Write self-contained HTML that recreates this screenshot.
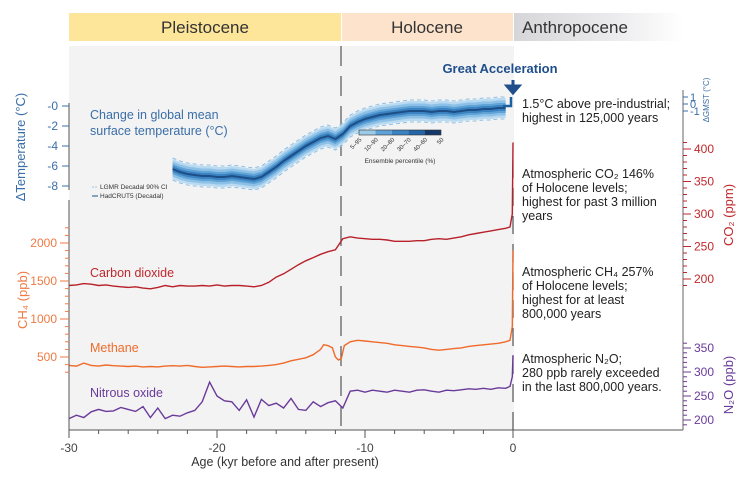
<!DOCTYPE html>
<html><head><meta charset="utf-8"><style>
body{margin:0;background:#fff}
svg{display:block;font-family:"Liberation Sans",sans-serif}
</style></head><body>
<svg id="chart" width="754" height="480" viewBox="0 0 754 480">
<defs><linearGradient id="anth" x1="0" x2="1"><stop offset="0" stop-color="#d6d6d8"/><stop offset="0.6" stop-color="#ececee"/><stop offset="1" stop-color="#fff"/></linearGradient></defs>
<rect x="69" y="13" width="272" height="28" fill="#fde59a"/>
<rect x="342" y="13" width="171" height="28" fill="#fde3cc"/>
<rect x="514" y="13" width="170" height="28" fill="url(#anth)"/>
<text x="205" y="33" font-size="17" text-anchor="middle" fill="#333">Pleistocene</text>
<text x="427" y="33" font-size="17" text-anchor="middle" fill="#333">Holocene</text>
<text x="575" y="33" font-size="17" text-anchor="middle" fill="#333">Anthropocene</text>
<rect x="69" y="46" width="445" height="384" fill="#f3f3f3"/>
<g id="marks"></g>
<g id="axes" fill="none" stroke-width="1"></g>
<text x="500" y="73" font-size="13" font-weight="bold" text-anchor="middle" fill="#1f4e8c">Great Acceleration</text>
<path d="M513 80 V88 M507 86 L513 93 L519 86 Z" stroke="#1f4e8c" stroke-width="3" fill="#1f4e8c"/>
<g font-size="12.5" fill="#222">
<text x="522" y="108">1.5°C above pre-industrial;</text><text x="522" y="122">highest in 125,000 years</text>
<text x="522" y="178">Atmospheric CO₂ 146%</text><text x="522" y="192">of Holocene levels;</text><text x="522" y="206">highest for past 3 million</text><text x="522" y="220">years</text>
<text x="522" y="276">Atmospheric CH₄ 257%</text><text x="522" y="290">of Holocene levels;</text><text x="522" y="304">highest for at least</text><text x="522" y="318">800,000 years</text>
<text x="522" y="363">Atmospheric N₂O;</text><text x="522" y="377">280 ppb rarely exceeded</text><text x="522" y="391">in the last 800,000 years.</text>
</g>
<text x="90" y="119" font-size="12.5" fill="#3a6ea8">Change in global mean</text>
<text x="90" y="135" font-size="12.5" fill="#3a6ea8">surface temperature (°C)</text>
<text x="90" y="277" font-size="12.5" fill="#c0282d">Carbon dioxide</text>
<text x="90" y="352" font-size="12.5" fill="#ee6c2c">Methane</text>
<text x="90" y="397" font-size="12.5" fill="#6a3a9a">Nitrous oxide</text>
<g font-size="6.5" fill="#333">
<line x1="92" y1="187" x2="98" y2="187" stroke="#9cc8e8" stroke-dasharray="2,1"/><text x="100" y="189">LGMR Decadal 90% CI</text>
<line x1="92" y1="196" x2="98" y2="196" stroke="#1d4f86"/><text x="100" y="198">HadCRUT5 (Decadal)</text>
</g>
<g id="cbar"></g>
<text x="400" y="163" font-size="6.5" text-anchor="middle" fill="#333">Ensemble percentile (%)</text>
<text x="285" y="466" font-size="12.5" text-anchor="middle" fill="#333">Age (kyr before and after present)</text>
<text transform="translate(25,147) rotate(-90)" font-size="13" text-anchor="middle" fill="#3a6ea8">ΔTemperature (°C)</text>
<text transform="translate(27,300) rotate(-90)" font-size="13" text-anchor="middle" fill="#ee7a44">CH₄ (ppb)</text>
<text transform="translate(733,215) rotate(-90)" font-size="13" text-anchor="middle" fill="#c0282d">CO₂ (ppm)</text>
<text transform="translate(733,385) rotate(-90)" font-size="13" text-anchor="middle" fill="#6a3a9a">N₂O (ppb)</text>
<text transform="translate(709,100) rotate(-90)" font-size="8" text-anchor="middle" fill="#3a6ea8">ΔGMST (°C)</text>
</svg>
<script>
const tempAges=[-23,-22.5,-22,-21.5,-21,-20.5,-20,-19.5,-19,-18.5,-18,-17.5,-17,-16.5,-16,-15.5,-15,-14.5,-14,-13.5,-13,-12.5,-12,-11.5,-11,-10.5,-10,-9.5,-9,-8.5,-8,-7.5,-7,-6.5,-6,-5.5,-5,-4.5,-4,-3.5,-3,-2.5,-2,-1.5,-1,-0.5];
const tempVals=[-6.3,-6.6,-6.8,-6.9,-7.0,-7.0,-7.1,-7.1,-7.0,-7.1,-7.2,-7.3,-7.1,-6.6,-6.1,-5.5,-5.0,-4.5,-4.0,-3.6,-3.2,-3.0,-3.3,-2.8,-2.0,-1.6,-1.3,-1.1,-0.9,-0.8,-0.7,-0.6,-0.5,-0.5,-0.5,-0.6,-0.5,-0.5,-0.6,-0.5,-0.4,-0.4,-0.3,-0.3,-0.2,-0.2];
const gasAges=[-30,-29.5,-29,-28.5,-28,-27.5,-27,-26.5,-26,-25.5,-25,-24.5,-24,-23.5,-23,-22.5,-22,-21.5,-21,-20.5,-20,-19.5,-19,-18.5,-18,-17.5,-17,-16.5,-16,-15.5,-15,-14.5,-14,-13.5,-13,-12.5,-12,-11.5,-11,-10.5,-10,-9.5,-9,-8.5,-8,-7.5,-7,-6.5,-6,-5.5,-5,-4.5,-4,-3.5,-3,-2.5,-2,-1.5,-1,-0.5,-0.2,-0.05,0];
const co2Vals=[190,191,193,192,190,191,189,188,187,188,186,185,187,190,188,190,189,189,190,189,191,189,190,190,189,188,190,195,203,208,215,222,228,233,238,242,245,262,265,263,262,261,261,260,258,258,258,259,259,261,262,261,263,265,268,270,272,274,276,278,280,300,410];
const n2oVals=[203,210,205,217,222,218,219,226,222,218,228,205,225,203,210,208,215,220,238,279,250,240,238,220,242,206,243,230,235,225,245,222,220,238,228,236,240,225,260,262,258,262,260,258,262,260,258,262,263,260,258,262,261,263,265,264,266,264,267,266,270,290,335];
const ch4Ages=[-30,-29.5,-29,-28.5,-28,-27.5,-27,-26.5,-26,-25.5,-25,-24.5,-24,-23.5,-23,-22.5,-22,-21.5,-21,-20.5,-20,-19.5,-19,-18.5,-18,-17.5,-17,-16.5,-16,-15.5,-15,-14.5,-14,-13.5,-13,-12.8,-12.5,-12.2,-12,-11.8,-11.6,-11.4,-11,-10.5,-10,-9.5,-9,-8.5,-8,-7.5,-7,-6.5,-6,-5.5,-5,-4.5,-4,-3.5,-3,-2.5,-2,-1.5,-1,-0.5,-0.2,-0.05,0];
const ch4Vals=[390,380,420,390,380,395,385,380,375,380,370,375,370,380,385,380,390,375,365,370,375,380,375,370,375,375,380,390,400,420,450,470,490,530,600,660,650,620,500,460,480,650,700,720,710,700,690,680,660,650,640,630,620,600,590,600,610,620,640,650,660,670,680,700,720,900,1900];
const xTicks=[-30,-20,-10,0];
const tempTicks=[0,-2,-4,-6,-8];
const ch4Ticks=[500,1000,1500,2000];
const co2Ticks=[200,250,300,350,400];
const n2oTicks=[200,250,300,350];
const gmstTicks=[1,0,-1];
const pctLabels=["5–95","10–90","20–80","30–70","40–60","50"];

const NS="http://www.w3.org/2000/svg";
const xS=a=>513+a*14.8;
const tY=v=>106-v*10;
const ch4Y=v=>395-v*0.076;
const co2Y=v=>279-(v-200)*0.65;
const n2oY=v=>420-(v-200)*0.48;
const gY=v=>104-v*7;
const marks=document.getElementById('marks'), axes=document.getElementById('axes');
function mk(tag,attrs,parent){const e=document.createElementNS(NS,tag);for(const k in attrs)e.setAttribute(k,attrs[k]);parent.appendChild(e);return e;}
function linePath(xs,ys,fy){return xs.map((a,i)=>(i?'L':'M')+xS(a).toFixed(1)+' '+fy(ys[i]).toFixed(1)).join(' ');}
function band(w){const up=tempAges.map((a,i)=>xS(a).toFixed(1)+' '+tY(tempVals[i]+w).toFixed(1));const dn=tempAges.map((a,i)=>xS(a).toFixed(1)+' '+tY(tempVals[i]-w).toFixed(1)).reverse();return 'M'+up.join(' L')+' L'+dn.join(' L')+'Z';}

// dashed vertical lines
let v1=mk('line',{x1:341,y1:46,x2:341,y2:430,stroke:'#555','stroke-width':1.2,'stroke-dasharray':'20,10'},marks);


let v2=mk('line',{x1:513,y1:160,x2:513,y2:430,stroke:'#555','stroke-width':1.2,'stroke-dasharray':'18,10'},marks);



// temperature band
const bandCols=[[1.0,'#b9daf1'],[0.75,'#8cc0e6'],[0.5,'#5fa2d6'],[0.3,'#3a82c2']];
bandCols.forEach(([w,c])=>{let p=mk('path',{d:band(w),fill:c},marks);

});
[1.1,-1.1].forEach(o=>{let p=mk('path',{d:linePath(tempAges,tempVals.map(v=>v+o),tY),fill:'none',stroke:'#8cc0e6','stroke-dasharray':'4,3'},marks);

});
let tl=mk('path',{d:linePath(tempAges,tempVals,tY),fill:'none',stroke:'#1d4f86','stroke-width':2},marks);


let hc=mk('path',{d:'M503 106 H511 V97',fill:'none',stroke:'#1d5fa0','stroke-width':2.5},marks);



let c1=mk('path',{d:linePath(gasAges,co2Vals,co2Y),fill:'none',stroke:'#b8202a','stroke-width':1.4},marks);


let c2=mk('path',{d:linePath(ch4Ages,ch4Vals,ch4Y),fill:'none',stroke:'#f06a2a','stroke-width':1.4},marks);


let c3=mk('path',{d:linePath(gasAges,n2oVals,n2oY),fill:'none',stroke:'#6a3a9a','stroke-width':1.4},marks);



// colorbar
const cb=document.getElementById('cbar');
['#9ccbe8','#5fa2d6','#3a82c2','#2466a8','#15386a'].forEach((c,i)=>{mk('rect',{x:359+i*16.4,y:130,width:16.4,height:5,fill:c},cb);});
mk('rect',{x:359,y:130,width:82,height:5,fill:'none',stroke:'#333','stroke-width':0.6},cb);
pctLabels.forEach((l,i)=>{const x=359+i*16.4;let t=mk('text',{transform:`translate(${x+3},${140}) rotate(-45)`,'font-size':6,'text-anchor':'end',fill:'#333'},cb);t.textContent=l;});

// axes
function ln(x1,y1,x2,y2,col,name){let l=mk('line',{x1,y1,x2,y2,stroke:col},axes);

return l;}
function txt(x,y,s,col,anchor,size,name){let t=mk('text',{x,y,'font-size':size||12,'text-anchor':anchor||'end',fill:col,stroke:'none'},axes);t.textContent=s;

return t;}
ln(69,430,683,430,'#555','x-axis-line');
for(let a=-30;a<=0;a+=2){ln(xS(a),430,xS(a),434,'#555','x-minor-tick');}
xTicks.forEach(a=>{ln(xS(a),430,xS(a),438,'#555','x-major-tick');txt(xS(a),452,String(a),'#444','middle',12,'x-tick-label');});
// temperature
const tc='#3a6ea8';
ln(69,103,69,190,'#555','temperature-axis-line');
tempTicks.forEach(v=>{ln(62,tY(v),69,tY(v),tc,'temperature-tick');txt(58,tY(v)+4,'-'+Math.abs(v),tc,'end',12,'temperature-tick-label');});
// ch4
const oc='#ee7a44';
ln(69,200,69,430,'#555','ch4-axis-line');
for(let v=300;v<=2200;v+=100){ln(65,ch4Y(v),69,ch4Y(v),oc,'ch4-minor-tick');}
ch4Ticks.forEach(v=>{ln(60,ch4Y(v),69,ch4Y(v),oc,'ch4-tick');txt(57,ch4Y(v)+4,String(v),oc,'end',12,'ch4-tick-label');});
// right
ln(683,90,683,430,'#666','right-axis-line');
const rc='#c0282d';
for(let v=190;v<=410;v+=10){ln(683,co2Y(v),687,co2Y(v),rc,'co2-minor-tick');}
co2Ticks.forEach(v=>{ln(683,co2Y(v),691,co2Y(v),rc,'co2-tick');txt(694,co2Y(v)+4,String(v),rc,'start',12,'co2-tick-label');});
const pc='#6a3a9a';
for(let v=190;v<=360;v+=10){ln(683,n2oY(v),687,n2oY(v),pc,'n2o-minor-tick');}
n2oTicks.forEach(v=>{ln(683,n2oY(v),691,n2oY(v),pc,'n2o-tick');txt(694,n2oY(v)+4,String(v),pc,'start',12,'n2o-tick-label');});
gmstTicks.forEach(v=>{ln(683,gY(v),688,gY(v),tc,'gmst-tick');txt(690,gY(v)+4,v<0?'-'+Math.abs(v):String(v),tc,'start',11,'gmst-tick-label');});
</script>
</body></html>
